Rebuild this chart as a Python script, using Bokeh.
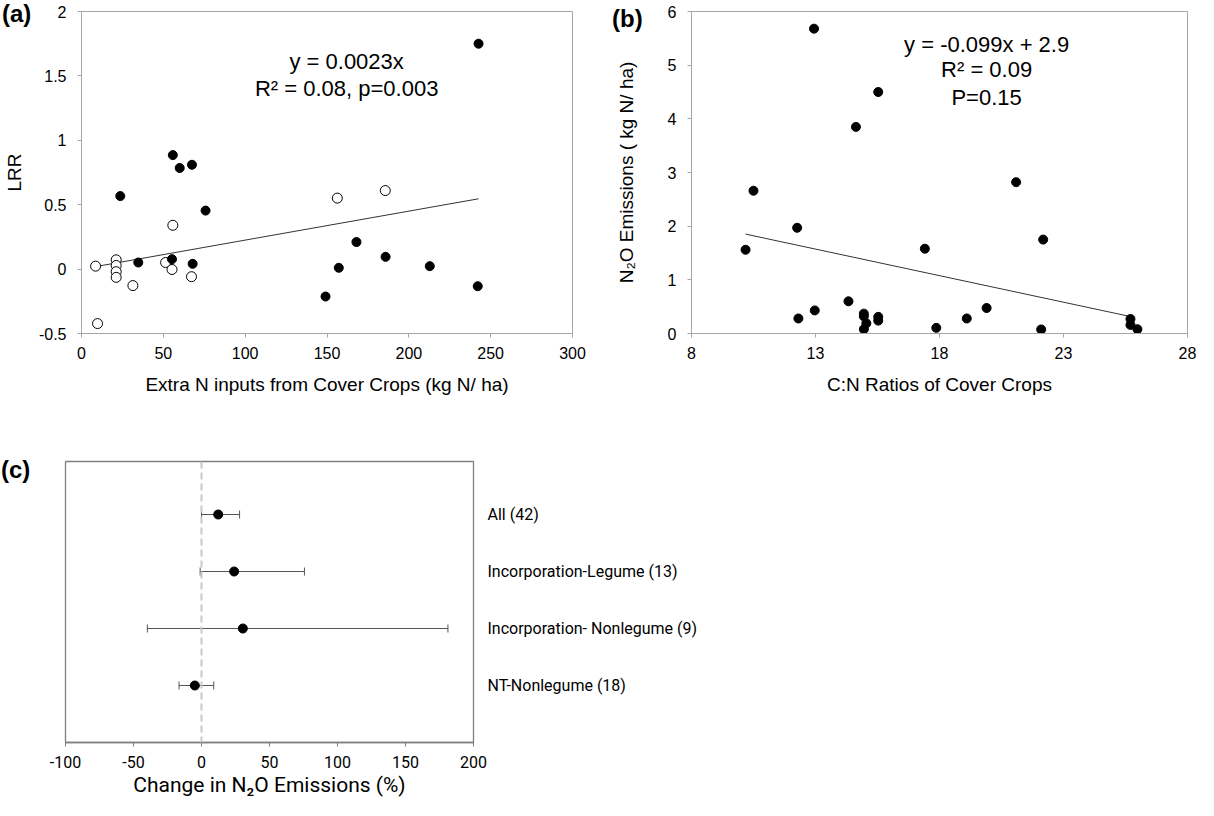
from bokeh.plotting import figure
from bokeh.models import (ColumnDataSource, Label, LinearAxis, FixedTicker, Range1d,
                          Whisker, Span, TeeHead, GridBox, Div)
from bokeh.layouts import column, row
from bokeh.embed import file_html
from bokeh.resources import INLINE
import numpy as np

# ---------------- data ----------------
# (a) LRR vs extra N inputs
a_filled_x = [242.6, 55.8, 60.0, 67.5, 23.7, 75.8, 34.7, 55.3, 67.9, 168.0, 185.8, 157.2, 212.8, 149.1, 242.1]
a_filled_y = [1.75, 0.885, 0.785, 0.81, 0.567, 0.454, 0.051, 0.077, 0.041, 0.21, 0.095, 0.01, 0.023, -0.213, -0.133]
a_open_x = [8.6, 9.8, 21.2, 21.2, 21.2, 21.2, 31.4, 51.4, 55.3, 55.8, 67.2, 156.3, 185.6]
a_open_y = [0.023, -0.423, 0.072, 0.028, -0.02, -0.064, -0.128, 0.051, -0.003, 0.34, -0.059, 0.551, 0.61]
a_slope = 0.00225
a_xticks = [0, 50, 100, 150, 200, 250, 300]
a_yticks = [-0.5, 0, 0.5, 1, 1.5, 2]

# (b) N2O emissions vs C:N ratio
b_x = [12.94, 15.53, 14.63, 10.50, 21.09, 12.26, 10.18, 17.41, 22.18, 14.33, 12.97, 12.31, 14.95,
       14.95, 15.05, 14.95, 15.53, 15.53, 17.87, 19.10, 19.90, 22.10, 25.70, 25.70, 25.98]
b_y = [5.68, 4.50, 3.85, 2.66, 2.82, 1.97, 1.56, 1.58, 1.75, 0.60, 0.43, 0.28, 0.37,
       0.32, 0.19, 0.08, 0.31, 0.24, 0.105, 0.28, 0.475, 0.075, 0.27, 0.16, 0.08]
b_slope = -0.099
b_intercept = 2.86
b_line_x = [10.18, 25.7]
b_xticks = [8, 13, 18, 23, 28]
b_yticks = [0, 1, 2, 3, 4, 5, 6]

# (c) change in N2O emissions
c_labels = ["All (42)", "Incorporation-Legume (13)", "Incorporation- Nonlegume (9)", "NT-Nonlegume (18)"]
c_mean = [12.3, 24.0, 30.4, -4.9]
c_lower = [0.0, -1.0, -39.8, -16.5]
c_upper = [28.0, 75.7, 181.2, 9.0]
c_xticks = [-100, -50, 0, 50, 100, 150, 200]

panel_tags = ["(a)", "(b)", "(c)"]

FONT = "Liberation Sans"
CFONT = "Roboto"
GREY = "#a6a6a6"


def plain_minus(ticks):
    return {t: str(t) for t in ticks if t < 0}


def style_axes(p, tick_size="16px", label_size="19px"):
    p.border_fill_color = None
    p.background_fill_color = None
    p.outline_line_color = GREY
    p.outline_line_width = 1
    p.grid.visible = False
    for ax in list(p.xaxis) + list(p.yaxis):
        ax.axis_line_color = GREY
        ax.major_tick_line_color = GREY
        ax.major_tick_out = 4
        ax.major_tick_in = 0
        ax.minor_tick_line_color = None
        ax.major_label_text_font = FONT
        ax.major_label_text_font_size = tick_size
        ax.major_label_text_color = "black"
        ax.axis_label_text_font = FONT
        ax.axis_label_text_font_size = label_size
        ax.axis_label_text_font_style = "normal"
        ax.axis_label_text_color = "black"
    p.xaxis.major_label_standoff = 9
    p.yaxis.major_label_standoff = 11
    p.xaxis.axis_label_standoff = 12


# ---------------- panel (a) ----------------
pa = figure(width=600, height=412, x_range=Range1d(0, 300), y_range=Range1d(-0.5, 2),
            output_backend="svg", toolbar_location=None,
            min_border_left=78, min_border_right=28, min_border_top=8, min_border_bottom=79)
style_axes(pa)
pa.xaxis.ticker = FixedTicker(ticks=a_xticks)
pa.yaxis.ticker = FixedTicker(ticks=a_yticks)
pa.yaxis.major_label_overrides = plain_minus(a_yticks)
pa.xaxis.axis_label = "Extra N inputs from Cover Crops (kg N/ ha)"
pa.yaxis.axis_label = "LRR"
pa.yaxis.axis_label_standoff = 11

all_ax = a_filled_x + a_open_x
ax_line = np.array([min(all_ax), max(all_ax)])
pa.line(ax_line, a_slope * ax_line, line_color="#333333", line_width=1)
pa.scatter(a_open_x, a_open_y, size=10, fill_color="white", line_color="black", line_width=1)
pa.scatter(a_filled_x, a_filled_y, size=9, fill_color="black", line_color="black")

pa.add_layout(Label(x=162, y=1.61, text="y = 0.0023x", text_align="center", text_baseline="middle",
                    text_font=FONT, text_font_size="22px", text_color="black"))
pa.add_layout(Label(x=162, y=1.40, text="R² = 0.08, p=0.003", text_align="center", text_baseline="middle",
                    text_font=FONT, text_font_size="22px", text_color="black"))

# ---------------- panel (b) ----------------
pb = figure(width=598, height=412, x_range=Range1d(8, 28), y_range=Range1d(0, 6),
            output_backend="svg", toolbar_location=None,
            min_border_left=91, min_border_right=11, min_border_top=11, min_border_bottom=76)
style_axes(pb)
pb.xaxis.ticker = FixedTicker(ticks=b_xticks)
pb.yaxis.ticker = FixedTicker(ticks=b_yticks)
pb.xaxis.axis_label = "C:N Ratios of Cover Crops"
pb.yaxis.axis_label = "N₂O Emissions ( kg N/ ha)"
pb.yaxis.axis_label_standoff = 28

bl = np.array(b_line_x)
pb.line(bl, b_slope * bl + b_intercept, line_color="#333333", line_width=1)
pb.scatter(b_x, b_y, size=9, fill_color="black", line_color="black")

for txt, yy in [("y = -0.099x + 2.9", 5.39), ("R² = 0.09", 4.91), ("P=0.15", 4.40)]:
    pb.add_layout(Label(x=19.9, y=yy, text=txt, text_align="center", text_baseline="middle",
                        text_font=FONT, text_font_size="22px", text_color="black"))

# ---------------- panel (c) ----------------
rows = list(range(len(c_labels), 0, -1))
src = ColumnDataSource(dict(y=rows, mean=c_mean, lower=c_lower, upper=c_upper))
pc = figure(width=700, height=388, x_range=Range1d(-100, 200), y_range=Range1d(0, 4.93),
            output_backend="svg", toolbar_location=None, y_axis_location=None,
            min_border_left=65, min_border_right=221, min_border_top=49, min_border_bottom=58)
pc.border_fill_color = None
pc.background_fill_color = None
pc.grid.visible = False
pc.outline_line_color = "#7f7f7f"
pc.outline_line_width = 1.3
xa = pc.xaxis[0]
xa.ticker = FixedTicker(ticks=c_xticks)
xa.major_label_overrides = plain_minus(c_xticks)
xa.axis_line_color = "#7f7f7f"
xa.axis_line_width = 1.3
xa.major_tick_line_color = "#7f7f7f"
xa.major_tick_out = 4
xa.major_tick_in = 0
xa.minor_tick_line_color = None
xa.major_label_text_font = CFONT
xa.major_label_text_font_size = "16px"
xa.major_label_text_color = "black"
xa.major_label_standoff = 9
xa.axis_label = "Change in N₂O Emissions (%)"
xa.axis_label_text_font = CFONT
xa.axis_label_text_font_size = "21px"
xa.axis_label_text_font_style = "normal"
xa.axis_label_text_color = "black"
xa.axis_label_standoff = 2

ra = LinearAxis(ticker=FixedTicker(ticks=rows),
                major_label_overrides={r: lab for r, lab in zip(rows, c_labels)})
ra.axis_line_color = None
ra.major_tick_line_color = None
ra.minor_tick_line_color = None
ra.major_label_text_font = CFONT
ra.major_label_text_font_size = "16px"
ra.major_label_text_color = "black"
ra.major_label_standoff = 8
pc.add_layout(ra, "right")

pc.add_layout(Span(location=0, dimension="height", line_color="#c8c8c8", line_width=2, line_dash="7 4"))
pc.add_layout(Whisker(source=src, base="y", lower="lower", upper="upper", dimension="width",
                      line_color="#555555", line_width=1,
                      lower_head=TeeHead(size=8, line_color="#555555", line_width=1),
                      upper_head=TeeHead(size=8, line_color="#555555", line_width=1)))
pc.scatter("mean", "y", source=src, size=9, fill_color="black", line_color="black")

# ---------------- panel tags, stacked in the same grid cell ----------------
tag_style = {"font-family": FONT, "font-size": "24px", "font-weight": "bold",
             "color": "black", "line-height": "1.15", "overflow": "visible"}
tag_margins = [(0, 0, 0, 2), (5, 0, 0, 612), (456, 0, 0, 1)]
tags = [Div(text=t, width=45, height=30, margin=m, styles=tag_style)
        for t, m in zip(panel_tags, tag_margins)]

main = column(row(pa, pb), pc)
grid = GridBox(children=[(main, 0, 0)] + [(t, 0, 0) for t in tags])
open("out.html", "w").write(file_html(grid, INLINE))
